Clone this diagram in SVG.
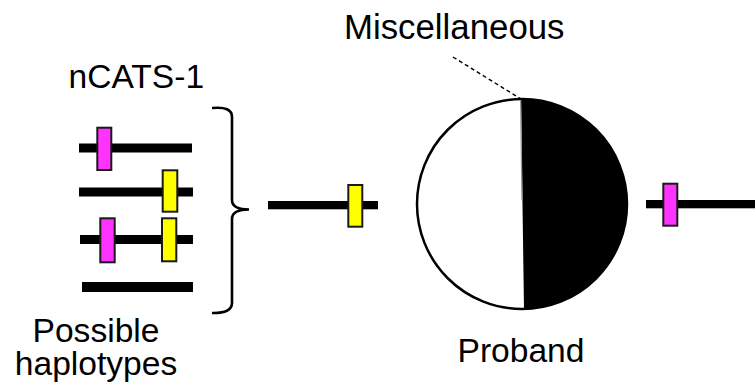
<svg xmlns="http://www.w3.org/2000/svg" width="755" height="389" viewBox="0 0 755 389">
<style>
text{font-family:"Liberation Sans",Arial,sans-serif;fill:#000}
.lbl{font-size:33.6px}
.bar{fill:#000}
.mag{fill:#ff33ff;stroke:#1a1a1a;stroke-width:2}
.yel{fill:#ffff00;stroke:#1a1a1a;stroke-width:2}
</style>
<rect width="755" height="389" fill="#fff"/>
<g id="label-ncats"><text class="lbl" x="68.5" y="88">nCATS-1</text></g>
<g id="label-possible"><text class="lbl" x="96" y="341.5" text-anchor="middle">Possible</text><text class="lbl" x="96" y="375" text-anchor="middle">haplotypes</text></g>
<g id="label-misc"><text x="344" y="39" font-size="34.8">Miscellaneous</text></g>
<g id="label-proband"><text class="lbl" x="521" y="361.5" text-anchor="middle">Proband</text></g>
<g id="haplotype-1"><rect class="bar" x="79" y="143.5" width="113" height="9"/><rect class="mag" x="97.3" y="127.7" width="14" height="42.3"/></g>
<g id="haplotype-2"><rect class="bar" x="79" y="187.5" width="114" height="9"/><rect class="yel" x="162.7" y="170.3" width="14.6" height="41.4"/></g>
<g id="haplotype-3"><rect class="bar" x="80" y="235" width="113" height="9"/><rect class="mag" x="100.3" y="218.3" width="14.4" height="44"/><rect class="yel" x="162" y="218.3" width="14.3" height="43"/></g>
<g id="haplotype-4"><rect class="bar" x="82" y="282" width="111" height="10"/></g>
<g id="bracket"><path d="M212,108 Q232,106 232,117 L232,200 Q232,209.5 249,209.5 Q232,209.5 232,219 L232,303 Q232,313.5 212,313" fill="none" stroke="#000" stroke-width="2.6"/></g>
<g id="haplotype-mid"><rect class="bar" x="268" y="201" width="110" height="8.3"/><rect class="yel" x="348.3" y="185" width="14" height="41.7"/></g>
<g id="proband-circle">
<circle cx="522" cy="204" r="105" fill="#fff" stroke="#000" stroke-width="2.5"/>
<path d="M521,99 A105,105 0 0 1 524,309 Z" fill="#000"/>
<line x1="520.6" y1="100" x2="522" y2="200" stroke="#9a9a9a" stroke-width="1.3"/>
</g>
<g id="haplotype-right"><rect class="bar" x="646" y="200" width="109" height="8.3"/><rect class="mag" x="663.3" y="183.7" width="14" height="42"/></g>
<g id="connectors"><line x1="453" y1="57" x2="521" y2="99" stroke="#000" stroke-width="1.4" stroke-dasharray="4,3"/></g>
</svg>
